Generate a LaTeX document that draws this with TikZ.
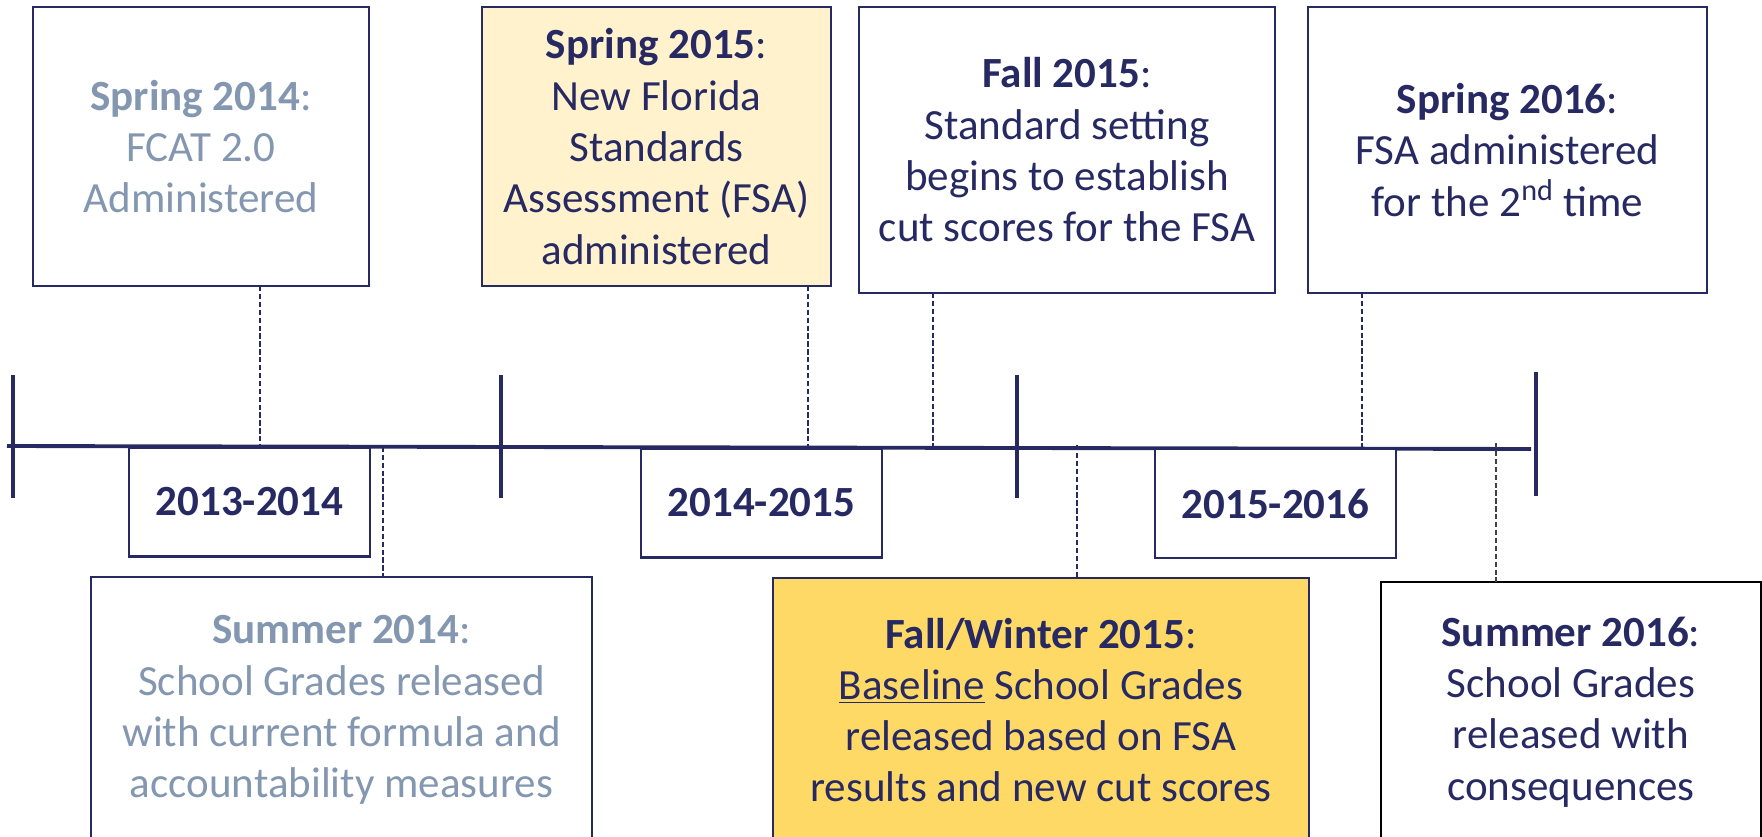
\documentclass[tikz,border=0pt]{standalone}
\usepackage{fontspec}
\setmainfont{Carlito}
\usetikzlibrary{positioning,calc}
\definecolor{navy}{HTML}{272A62}
\definecolor{greyblue}{HTML}{8497B0}
\definecolor{paleyellow}{HTML}{FFF2CC}
\definecolor{gold}{HTML}{FFD966}

\begin{document}
\begin{tikzpicture}[x=0.02cm,y=-0.02cm,every node/.style={block},
        block/.style={draw=navy,line width=1.4pt,rectangle,align=center,text=navy,fill=white,
                      inner sep=0pt,outer sep=0pt,font=\fontsize{24.5}{29.2}\selectfont},
        year/.style={font=\fontsize{24.5}{29.2}\selectfont\bfseries,minimum width=4.82cm,minimum height=2.18cm},
        link/.style={dash pattern=on 3pt off 1.5pt,navy,line width=0.6pt}]
   \useasboundingbox (0,0) rectangle (1762,836);

   % time line
   \draw[navy,line width=2.2pt] (7,446) -- (1531,449);
   \foreach \tx/\ta/\tb in {12.6/375/498,501/375/498,1017/375/498,1536/372/496}
      \draw[navy,line width=2.3pt] (\tx,\ta) -- (\tx,\tb);
   \coordinate (L1) at (260,446.5);
   \coordinate (L2) at (808,447.5);
   \coordinate (L3) at (933,447.8);
   \coordinate (L4) at (1362,448.6);
   \coordinate (D1) at (383,446.8);
   \coordinate (D2) at (1077,445);
   \coordinate (D3) at (1496,443);

   % above the line
   \node[minimum width=6.72cm,minimum height=5.58cm,text=greyblue] (S14) at (201,146.5)
      {\textbf{Spring 2014}:\\FCAT 2.0\\Administered};
   \node[minimum width=6.98cm,minimum height=5.58cm,fill=paleyellow] (S15) at (656.5,146.5)
      {\textbf{Spring 2015}:\\New Florida\\Standards\\Assessment (FSA)\\administered};
   \node[minimum width=8.32cm,minimum height=5.72cm] (F15) at (1067,150)
      {\textbf{Fall 2015}:\\Standard setting\\begins to establish\\cut scores for the FSA};
   \node[minimum width=7.98cm,minimum height=5.72cm] (S16) at (1507.5,150)
      {\textbf{Spring 2016}:\\FSA administered\\for the 2\textsuperscript{nd} time};

   % school years
   \node[year] (Y1) at (249.5,502) {2013-2014};
   \node[year] (Y2) at (761.5,503) {2014-2015};
   \node[year] (Y3) at (1275.5,503.5) {2015-2016};

   % below the line
   \node[minimum width=10.02cm,minimum height=5.32cm,text=greyblue] (U14) at (341.5,710)
      {\textbf{Summer 2014}:\\School Grades released\\with current formula and\\accountability measures};
   \node[minimum width=10.72cm,minimum height=5.28cm,fill=gold] (W15) at (1041,710)
      {\textbf{Fall/Winter 2015}:\\\underline{Baseline} School Grades\\released based on FSA\\results and new cut scores};
   \node[minimum width=7.6cm,minimum height=5.2cm,draw=black] (U16) at (1571,712)
      {\textbf{Summer 2016}:\\School Grades\\released with\\consequences};

   \draw[link] (S14.south -| L1) -- (L1);
   \draw[link] (S15.south -| L2) -- (L2);
   \draw[link] (F15.south -| L3) -- (L3);
   \draw[link] (S16.south -| L4) -- (L4);
   \draw[link] (D1) -- (U14.north -| D1);
   \draw[link] (D2) -- (W15.north -| D2);
   \draw[link,black!75] (D3) -- (U16.north -| D3);
\end{tikzpicture}
\end{document}
